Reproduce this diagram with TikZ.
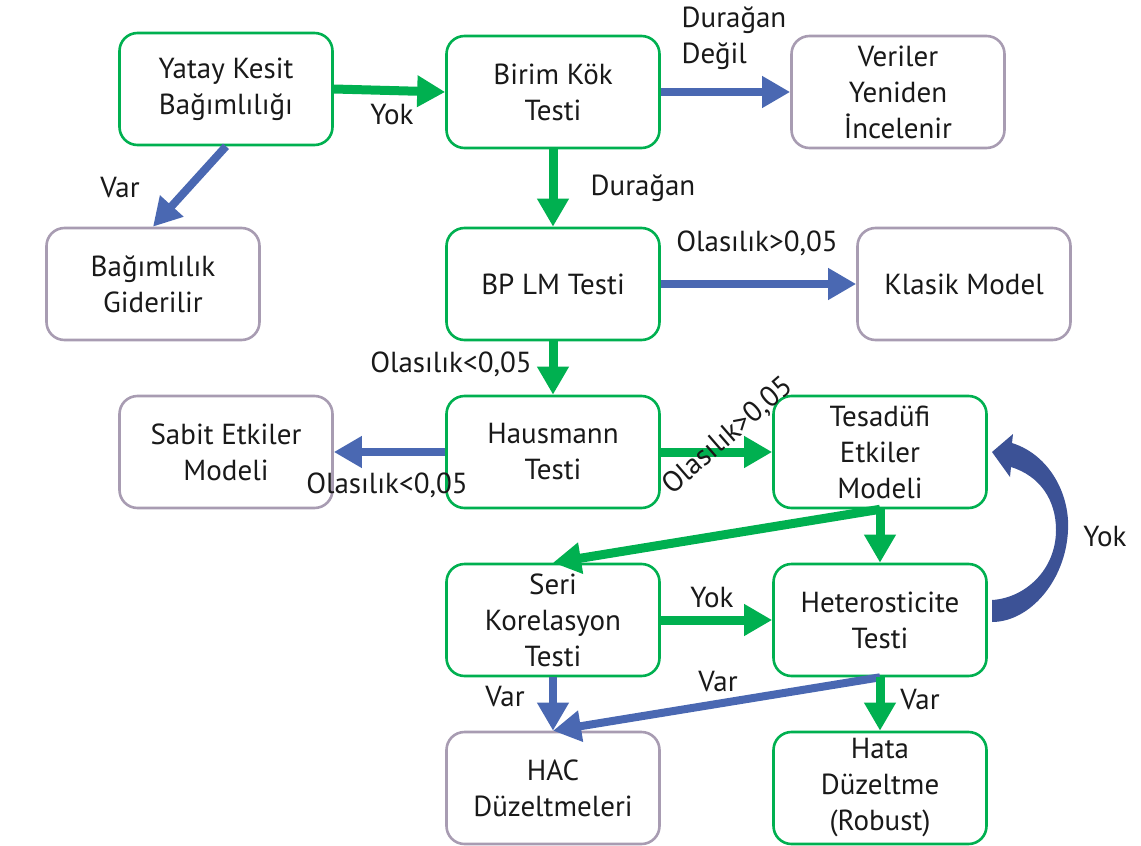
\documentclass[tikz,border=0pt]{standalone}
\usepackage{fontspec}
\setmainfont{PT Sans}
\usetikzlibrary{arrows.meta}
\definecolor{boxgreen}{RGB}{0,176,80}
\definecolor{arrblue}{RGB}{74,104,178}
\definecolor{curvblue}{RGB}{60,82,150}
\definecolor{boxgray}{RGB}{168,156,178}
\definecolor{txt}{RGB}{25,25,25}
\begin{document}
\begin{tikzpicture}
    [x=0.5pt,y=-0.5pt,
    font=\fontsize{14.5}{18}\selectfont, text=txt,
    box/.style={rectangle, rounded corners=9pt, line width=1.3pt, fill=white,
      minimum width=106.5pt, minimum height=56pt, align=center},
    gbox/.style={box, draw=boxgreen},
    pbox/.style={box, draw=boxgray},
    garr/.style={draw=boxgreen, line width=4.5pt, -{Triangle[length=14pt,width=15pt]}},
    barr/.style={draw=arrblue, line width=4pt, -{Triangle[length=14pt,width=15pt]}}]
    \useasboundingbox (0,0) rectangle (1141,846);
    % boxes
    \node[gbox] (yatay) at (226,89) {Yatay Kesit\\Bağımlılığı};
    \node[gbox] (birim) at (553,92) {Birim Kök\\Testi};
    \node[pbox] (veri) at (898,92) {Veriler\\Yeniden\\İncelenir};
    \node[pbox] (bagim) at (153,284) {Bağımlılık\\Giderilir};
    \node[gbox] (bplm) at (553,284) {BP LM Testi};
    \node[pbox] (klasik) at (964,284) {Klasik Model};
    \node[pbox] (sabit) at (226,452) {Sabit Etkiler\\Modeli};
    \node[gbox] (haus) at (553,452) {Hausmann\\Testi};
    \node[gbox] (tesad) at (880,452) {Tesadüfi\\Etkiler\\Modeli};
    \node[gbox] (seri) at (553,620) {Seri\\Korelasyon\\Testi};
    \node[gbox] (hetero) at (880,620) {Heterosticite\\Testi};
    \node[pbox] (hac) at (553,788) {HAC\\Düzeltmeleri};
    \node[gbox] (hata) at (880,788) {Hata\\Düzeltme\\(Robust)};
    % connectors
    \draw[garr] (yatay.east) -- (birim.west);
    \draw[barr] (yatay.south) -- (bagim.north);
    \draw[barr] (birim.east) -- (veri.west);
    \draw[garr] (birim.south) -- (bplm.north);
    \draw[barr] (bplm.east) -- (klasik.west);
    \draw[garr] (bplm.south) -- (haus.north);
    \draw[barr] (haus.west) -- (sabit.east);
    \draw[garr] (haus.east) -- (tesad.west);
    \draw[garr] (tesad.south) -- (seri.north);
    \draw[garr] (tesad.south) -- (hetero.north);
    \draw[garr] (seri.east) -- (hetero.west);
    \draw[barr] (seri.south) -- (hac.north);
    \draw[barr] (hetero.south) -- (hac.north);
    \draw[garr] (hetero.south) -- (hata.north);
    % curved arrow back to Tesadufi
    \fill[curvblue] (992,452) -- (1013,434) -- (1012,443)
      .. controls (1050,455) and (1070,495) .. (1068,530)
      .. controls (1066,580) and (1030,622) .. (992,622)
      -- (992,600)
      .. controls (1025,598) and (1056,570) .. (1056,530)
      .. controls (1056,500) and (1040,476) .. (1011,467)
      -- (1010,477) -- cycle;
    % labels
    \node (yok1) at (392,115) {Yok};
    \node (var1) at (120,188) {Var};
    \node[align=left] (degil) at (734,38) {Durağan\\Değil};
    \node (durag) at (643,188) {Durağan};
    \node (olbig1) at (757,243) {Olasılık>0,05};
    \node (olsm1) at (451,364) {Olasılık<0,05};
    \node (olsm2) at (387,485) {Olasılık<0,05};
    \node[rotate=41] (olbig2) at (728,436) {Olasılık>0,05};
    \node (yok2) at (712,598) {Yok};
    \node (var2) at (505,697) {Var};
    \node (var3) at (718,682) {Var};
    \node (var4) at (920,700) {Var};
    \node (yok3) at (1105,537) {Yok};
\end{tikzpicture}
\end{document}
